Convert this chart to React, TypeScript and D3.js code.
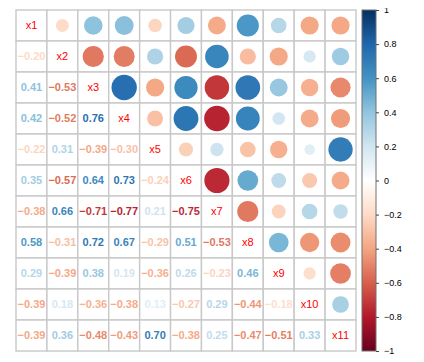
import React, { useEffect, useRef } from "react";
import * as d3 from "d3";

const vars = ["x1", "x2", "x3", "x4", "x5", "x6", "x7", "x8", "x9", "x10", "x11"];

// lower triangle, row by row (row i holds cor with columns 0..i-1)
const lower: number[][] = [
  [],
  [-0.2],
  [0.41, -0.53],
  [0.42, -0.52, 0.76],
  [-0.22, 0.31, -0.39, -0.3],
  [0.35, -0.57, 0.64, 0.73, -0.24],
  [-0.38, 0.66, -0.71, -0.77, 0.21, -0.75],
  [0.58, -0.31, 0.72, 0.67, -0.29, 0.51, -0.53],
  [0.29, -0.39, 0.38, 0.19, -0.36, 0.26, -0.23, 0.46],
  [-0.39, 0.18, -0.36, -0.38, 0.13, -0.27, 0.29, -0.44, -0.18],
  [-0.39, 0.36, -0.48, -0.43, 0.7, -0.38, 0.25, -0.47, -0.51, 0.33],
];

const barTicks = [-1, -0.8, -0.6, -0.4, -0.2, 0, 0.2, 0.4, 0.6, 0.8, 1];
const rdbu = ["#67001F", "#B2182B", "#D6604D", "#F4A582", "#FDDBC7", "#FFFFFF", "#D1E5F0", "#92C5DE", "#4393C3", "#2166AC", "#053061"];

const fmt = (v: number) => {
  const s = Math.abs(v).toFixed(2);
  return v < 0 ? "\u2212" + s : s;
};

const App = () => {
  const svgRef = useRef<SVGSVGElement>(null);

  useEffect(() => {
    const svg = d3.select(svgRef.current);
    svg.selectAll("*").remove();

    const n = vars.length;
    const left = 16, top = 10, size = 340, gh = 341;
    const x = d3.scaleBand().domain(vars).range([left, left + size]);
    const y = d3.scaleBand().domain(vars).range([top, top + gh]);
    const color = d3.scaleLinear<string>().domain(barTicks).range(rdbu).interpolate(d3.interpolateRgb);

    const cor = (i: number, j: number) => (i > j ? lower[i][j] : lower[j][i]);

    const cells: { i: number; j: number }[] = [];
    for (let i = 0; i < n; i++) for (let j = 0; j < n; j++) cells.push({ i, j });

    const g = svg.append("g");
    // grid
    g.selectAll("rect.cell")
      .data(cells)
      .enter()
      .append("rect")
      .attr("x", d => x(vars[d.j])!)
      .attr("y", d => y(vars[d.i])!)
      .attr("width", x.bandwidth())
      .attr("height", y.bandwidth())
      .attr("fill", "white")
      .attr("stroke", "#c8c8c8")
      .attr("stroke-width", 1.4);

    // upper circles
    const up = cells.filter(d => d.j > d.i);
    g.selectAll("circle")
      .data(up)
      .enter()
      .append("circle")
      .attr("cx", d => x(vars[d.j])! + x.bandwidth() / 2)
      .attr("cy", d => y(vars[d.i])! + y.bandwidth() / 2)
      .attr("r", d => (Math.sqrt(Math.abs(cor(d.i, d.j))) * x.bandwidth() * 0.94) / 2)
      .attr("fill", d => color(cor(d.i, d.j)));

    // lower numbers
    const lo = cells.filter(d => d.j < d.i);
    g.selectAll("text.num")
      .data(lo)
      .enter()
      .append("text")
      .attr("x", d => x(vars[d.j])! + x.bandwidth() / 2)
      .attr("y", d => y(vars[d.i])! + y.bandwidth() / 2)
      .attr("dy", "0.36em")
      .attr("text-anchor", "middle")
      .attr("font-family", "Liberation Sans, Arial, sans-serif")
      .attr("font-size", 11)
      .attr("font-weight", "bold")
      .attr("fill", d => color(cor(d.i, d.j)))
      .text(d => fmt(cor(d.i, d.j)));

    // diagonal labels
    g.selectAll("text.diag")
      .data(vars)
      .enter()
      .append("text")
      .attr("x", d => x(d)! + x.bandwidth() / 2)
      .attr("y", d => y(d)! + y.bandwidth() / 2)
      .attr("dy", "0.36em")
      .attr("text-anchor", "middle")
      .attr("font-family", "Liberation Sans, Arial, sans-serif")
      .attr("font-size", 11)
      .attr("fill", "#ff0000")
      .text(d => d);

    // colour bar
    const bx = 362, bw = 14;
    const by = d3.scaleLinear().domain([-1, 1]).range([top + gh, top]);
    const defs = svg.append("defs");
    const grad = defs.append("linearGradient").attr("id", "cbar").attr("x1", 0).attr("y1", 1).attr("x2", 0).attr("y2", 0);
    grad.selectAll("stop")
      .data(barTicks)
      .enter()
      .append("stop")
      .attr("offset", d => (d + 1) / 2)
      .attr("stop-color", d => color(d));
    svg.append("rect")
      .attr("x", bx)
      .attr("y", top)
      .attr("width", bw)
      .attr("height", gh)
      .attr("fill", "url(#cbar)")
      .attr("stroke", "#707070")
      .attr("stroke-width", 1);

    const axis = d3.axisRight(by)
      .tickValues(barTicks)
      .tickSize(3)
      .tickFormat(d => {
        const v = +d;
        if (v === 0) return "0";
        if (Math.abs(v) === 1) return v < 0 ? "\u22121" : "1";
        return (v < 0 ? "\u2212" : "") + Math.abs(v).toFixed(1);
      });
    const ag = svg.append("g").attr("transform", `translate(${bx + bw},0)`).call(axis);
    ag.select(".domain").remove();
    ag.selectAll(".tick line").attr("stroke", "#444");
    ag.selectAll(".tick text")
      .attr("x", 8)
      .attr("font-family", "Liberation Sans, Arial, sans-serif")
      .attr("font-size", 9)
      .attr("fill", "#000");
  }, []);

  return (
    <div style={{ margin: -8 }}>
      <svg ref={svgRef} width={424} height={362} style={{ display: "block" }}></svg>
    </div>
  );
};

export default App;
